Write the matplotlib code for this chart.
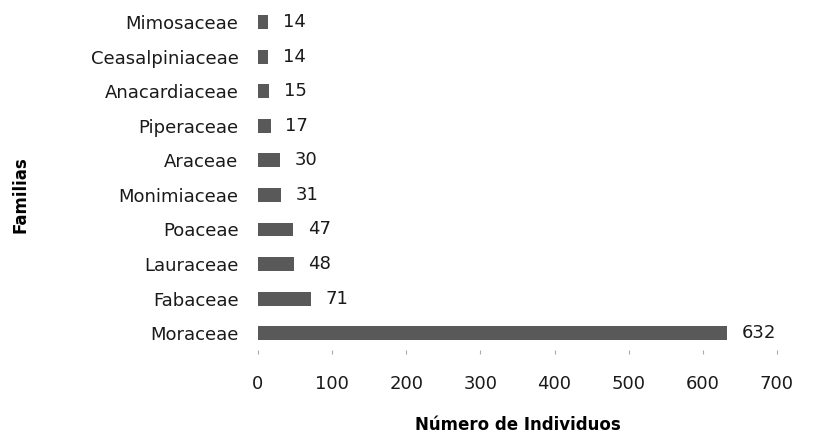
import matplotlib.pyplot as plt

# families from bottom to top
familias = ['Moraceae', 'Fabaceae', 'Lauraceae', 'Poaceae', 'Monimiaceae',
            'Araceae', 'Piperaceae', 'Anacardiaceae', 'Ceasalpiniaceae', 'Mimosaceae']
individuos = [632, 71, 48, 47, 31, 30, 17, 15, 14, 14]
xticks = [0, 100, 200, 300, 400, 500, 600, 700]

plt.rcParams['font.family'] = ['DejaVu Sans']

fig = plt.figure(figsize=(8.39, 4.37), dpi=100)
ax = fig.add_axes([0.3075, 0.198, 0.6185, 0.791])

pos = list(range(len(familias)))
ax.barh(pos, individuos, height=0.4, color='#595959')

# value labels next to bars
for p, v in zip(pos, individuos):
    ax.text(v + 20, p, str(v), va='center', ha='left', fontsize=13, color='#1a1a1a')

ax.set_xlim(0, 700)
ax.set_ylim(-0.5, len(familias) - 0.5)
ax.set_yticks(pos)
ax.set_yticklabels(familias, fontsize=13, color='#1a1a1a')
ax.set_xticks(xticks)
ax.set_xticklabels([str(t) for t in xticks], fontsize=13, color='#1a1a1a')
ax.tick_params(axis='y', length=0, pad=14)
ax.tick_params(axis='x', length=3, color='#aaaaaa', pad=15)

for s in ax.spines.values():
    s.set_visible(False)

ax.set_xlabel('Número de Individuos', fontsize=12, fontweight='bold', labelpad=16)
fig.text(0.025, 0.554, 'Familias', rotation=90, fontsize=12, fontweight='bold',
         va='center', ha='center')

fig.savefig('out.png', dpi=100)
